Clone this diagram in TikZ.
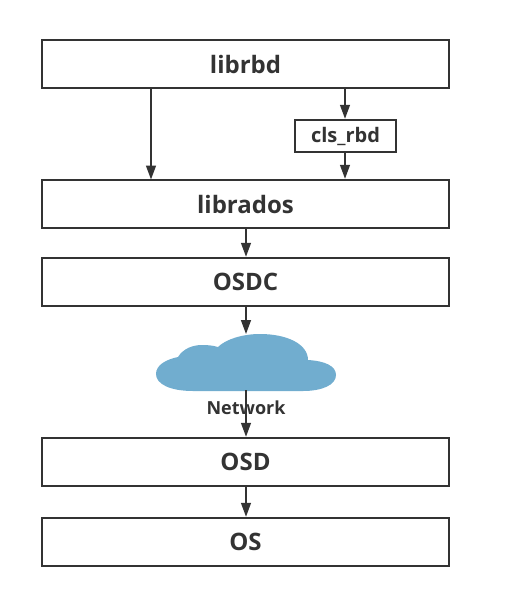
\documentclass[tikz,border=0pt]{standalone}
\usepackage{fontspec}
\setmainfont{Open Sans}
\usetikzlibrary{arrows.meta}
\definecolor{ink}{HTML}{333333}
\definecolor{cloudblue}{HTML}{71ADCF}
\tikzset{
  box/.style={draw=ink,line width=1.5pt,fill=white,inner sep=0pt,minimum width=407pt,minimum height=48pt,text=ink,font=\fontsize{24}{28}\selectfont\bfseries},
  smallbox/.style={box,minimum width=101pt,minimum height=32pt,font=\fontsize{20}{24}\selectfont\bfseries},
  conn/.style={draw=ink,line width=1.5pt,-{Triangle[length=14pt,width=10pt]},shorten >=0.5pt},
  lab/.style={text=ink,inner sep=0pt,font=\fontsize{18}{22}\selectfont\bfseries}
}
\begin{document}
\begin{tikzpicture}[x=1pt,y=-1pt]
\useasboundingbox (0,0) rectangle (507,616);
\node[box] (librbd) at (245.5,64) {librbd};
\node[smallbox] (cls) at (345.5,136) {cls\_rbd};
\node[box] (librados) at (245.5,204) {librados};
\node[box] (osdc) at (245.5,282) {OSDC};
\node[box] (osd) at (245.5,462) {OSD};
\node[box] (os) at (245.5,542) {OS};
\coordinate (cloudtop) at (246,334.5);
\coordinate (cloudbot) at (246,390);
\coordinate (leftstart) at (151,88);
\coordinate (leftend) at (151,180);
\coordinate (clsx) at (345,136);
\draw[conn] (librbd.south -| clsx) -- (cls.north -| clsx);
\draw[conn] (cls.south -| clsx) -- (librados.north -| clsx);
\draw[conn] (leftstart) -- (leftend);
\draw[conn] (librados.south -| cloudtop) -- (osdc.north -| cloudtop);
\draw[conn] (osdc.south -| cloudtop) -- (cloudtop);
\fill[cloudblue] (193,391)
  .. controls (170,391) and (156,384) .. (156,374)
  .. controls (156,365) and (166,359.5) .. (178,357)
  .. controls (183,349) and (192,345) .. (202,345)
  .. controls (208,345) and (213,345.5) .. (218,347)
  .. controls (226,339) and (243,334) .. (260,334)
  .. controls (287,334) and (308,344) .. (308,360)
  .. controls (325,361) and (336,366) .. (336,375)
  .. controls (336,385) and (322,391) .. (303,391)
  -- cycle;
\draw[conn] (cloudbot) -- (osd.north -| cloudbot);
\node[lab] (net) at (246,407.5) {Network};
\draw[conn] (osd.south -| cloudbot) -- (os.north -| cloudbot);
\end{tikzpicture}
\end{document}
